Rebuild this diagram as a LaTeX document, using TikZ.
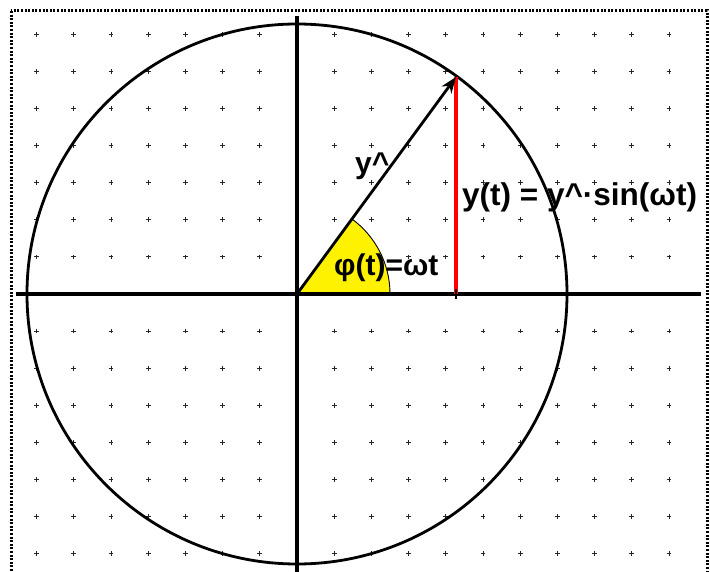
\documentclass[tikz,border=0pt]{standalone}
\usepackage{fontspec}
\setmainfont{Liberation Sans}
\usetikzlibrary{arrows.meta,calc}
\tikzset{
  gridplus/.style={line width=1pt, black!85},
  axisline/.style={line width=3.2pt, black},
  curve/.style={line width=2.8pt, black},
  vec/.style={line width=2.8pt, black, -{Stealth[length=16pt,width=12pt,inset=5pt]}},
  sine/.style={line width=3.4pt, red},
  label/.style={inner sep=0pt, anchor=base west, font=\fontsize{30}{34}\bfseries\selectfont},
  frame/.style={line width=3pt, dash pattern=on 2pt off 1.6pt}
}
\begin{document}
\begin{tikzpicture}[x=1pt,y=-1pt]
\useasboundingbox (0,0) rectangle (710,572);
\fill[white] (0,0) rectangle (710,572);
% grid of small crosses
\foreach \i in {-7,...,10}{
  \foreach \j in {-7,...,7}{
    \draw[gridplus] ({297+\i*37.2-2.4},{294+\j*37.05}) -- ++(4.8,0)
                    ({297+\i*37.2},{294+\j*37.05-2.4}) -- ++(0,4.8);
  }
}
% frame
\begin{scope}
\clip (0,0) rectangle (710,572);
\draw[frame] (11,11) rectangle (707,590);
\end{scope}
\coordinate (O) at (297,294);
\coordinate (T) at (456,77);
\coordinate (F) at (456,294);
\coordinate (A) at (390,294);
\coordinate (XL) at (16,294);
\coordinate (XR) at (701,294);
\coordinate (YT) at (297,16);
\coordinate (YB) at (297,572);
% sector
\fill[yellow] (O) -- (A) arc[start angle=0, end angle=-53.8, radius=93] -- cycle;
\draw[line width=0.9pt] (A) arc[start angle=0, end angle=-53.8, radius=93];
% circle
\draw[curve] (O) circle[radius=270];
% axes
\draw[axisline] (XL) -- (XR);
\draw[axisline] (YT) -- (YB);
% red line
\draw[sine] (T) -- (F);
\draw[line width=1.8pt] ($(F)+(0,-5)$) -- ($(F)+(0,5)$);
% vector
\draw[vec] (O) -- (T);
% labels
\node[label] (lamp) at (355,174) {y\^{}};
\node[label] (lphi) at (334,276) {φ(t)=ωt};
\node[label, font=\fontsize{31.5}{36}\bfseries\selectfont] (ly) at (462,206) {y(t) = y\^{}·sin(ωt)};
\end{tikzpicture}
\end{document}
